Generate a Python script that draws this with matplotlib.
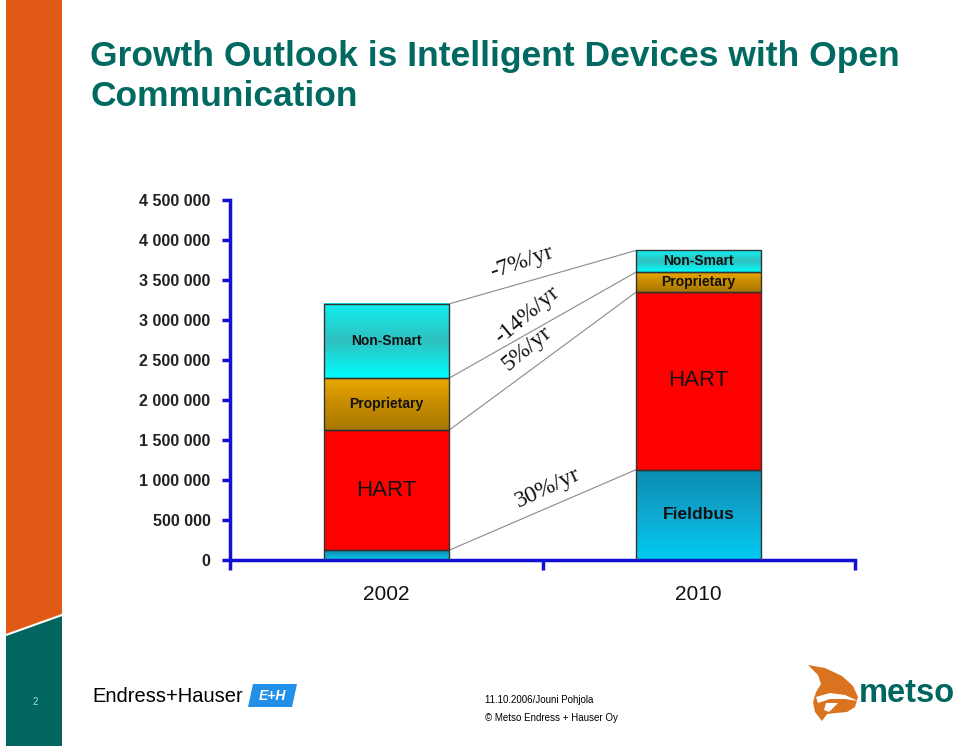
import matplotlib
matplotlib.use("Agg")
import matplotlib.pyplot as plt
import numpy as np
from matplotlib.patches import Polygon
from matplotlib.colors import LinearSegmentedColormap

# ---------------- data ----------------
years = ["2002", "2010"]
segments = ["Fieldbus", "HART", "Proprietary", "Non-Smart"]
fieldbus = [120000, 1130000]
hart = [1500000, 2220000]
proprietary = [650000, 250000]
non_smart = [930000, 270000]
yticks = [0, 500000, 1000000, 1500000, 2000000, 2500000, 3000000, 3500000, 4000000, 4500000]
growth_labels = ["30%/yr", "5%/yr", "-14%/yr", "-7%/yr"]

W, H = 960, 748
fig = plt.figure(figsize=(W / 100, H / 100), dpi=100)
fig.patch.set_facecolor("white")

def fx(px):
    return px / W

def fy(py):
    return 1 - py / H

SANS = ["Liberation Sans", "DejaVu Sans"]
SERIF = ["Liberation Serif", "DejaVu Serif"]
TEAL = "#006A60"
BLUE = "#1010D8"

# ---------------- decorations ----------------
deco = fig.add_axes([0, 0, 1, 1])
deco.set_xlim(0, W)
deco.set_ylim(H, 0)
deco.axis("off")
deco.add_patch(Polygon([(6, 0), (62, 0), (62, 615), (6, 635)], closed=True,
                       facecolor="#E05A16", edgecolor="none"))
deco.add_patch(Polygon([(6, 635), (62, 615), (62, 746), (6, 746)], closed=True,
                       facecolor="#00665F", edgecolor="none"))
deco.plot([6, 62], [635, 615], color="white", lw=1.5)
deco.text(35, 702, "2", color="#A8E0DC", fontsize=7, ha="center", va="center", family=SANS)

# title
deco.text(90, 56, "Growth Outlook is Intelligent Devices with Open", color=TEAL,
          fontsize=25.5, fontweight="bold", ha="left", va="center", family=SANS)
deco.text(90, 96, "Communication", color=TEAL,
          fontsize=25.5, fontweight="bold", ha="left", va="center", family=SANS)

# Endress+Hauser logo
deco.text(92, 697, "Endress+Hauser", color="black", fontsize=14.5, ha="left",
          va="center", family=SANS)
deco.add_patch(Polygon([(253, 684), (297, 684), (292, 707), (248, 707)], closed=True,
                       facecolor="#2290E8", edgecolor="none"))
deco.text(272, 696, "E+H", color="white", fontsize=10, fontweight="bold",
          style="italic", ha="center", va="center", family=SANS)

# footer texts
deco.text(485, 700, "11.10.2006/Jouni Pohjola", color="black", fontsize=7,
          ha="left", va="center", family=SANS)
deco.text(485, 718, "\u00a9 Metso Endress + Hauser Oy", color="black", fontsize=7,
          ha="left", va="center", family=SANS)

# metso logo
deco.add_patch(Polygon([(808, 665), (825, 668), (842, 676), (853, 686), (858, 697),
                        (855, 707), (847, 712), (836, 713), (827, 714), (822, 721),
                        (815, 712), (813, 702), (816, 692), (821, 684), (818, 675)],
                       closed=True, facecolor="#D9731E", edgecolor="none"))
deco.add_patch(Polygon([(816, 697), (830, 693), (845, 695), (858, 701), (845, 699),
                        (830, 699), (818, 703)], closed=True, facecolor="white",
                       edgecolor="none"))
deco.add_patch(Polygon([(826, 703), (838, 703), (829, 712), (824, 710)], closed=True,
                       facecolor="white", edgecolor="none"))
deco.text(859, 694, "metso", color="#00665F", fontsize=23.5, fontweight="bold",
          ha="left", va="center", family=SANS)

# ---------------- chart ----------------
ax = fig.add_axes([fx(230), fy(560), (855 - 230) / W, 360 / H])
ax.set_xlim(-0.5, 1.5)
ax.set_ylim(0, 4500000)
ax.set_facecolor("none")

x = np.arange(len(years))
width = 0.4
series = [fieldbus, hart, proprietary, non_smart]

gradients = {
    "Fieldbus": ["#00CCF2", "#0FA8D0", "#0A8CB0"],
    "HART": ["#FF0000", "#FF0000"],
    "Proprietary": ["#A87800", "#C88C00", "#EAA800"],
    "Non-Smart": ["#00FFFF", "#30C0C0", "#10F0F0"],
}
label_sizes = {"HART": 16, "Fieldbus": 12.5, "Proprietary": 10, "Non-Smart": 10}
label_weights = {"HART": "normal", "Fieldbus": "bold", "Proprietary": "bold", "Non-Smart": "bold"}

bottoms = np.zeros(len(years))
tops = []
for name, vals in zip(segments, series):
    vals = np.array(vals, dtype=float)
    bars = ax.bar(x, vals, width, bottom=bottoms, facecolor="none",
                  edgecolor="#333333", linewidth=1.0, zorder=3)
    cmap = LinearSegmentedColormap.from_list(name, gradients[name])
    grad = np.linspace(0, 1, 256).reshape(-1, 1)
    for b in bars:
        x0, y0 = b.get_x(), b.get_y()
        ax.imshow(grad, cmap=cmap, aspect="auto", origin="lower",
                  extent=(x0, x0 + b.get_width(), y0, y0 + b.get_height()),
                  zorder=2, interpolation="bilinear")
    for xi, v, b0 in zip(x, vals, bottoms):
        if v < 200000:
            continue
        ax.text(xi, b0 + v / 2, name, ha="center", va="center",
                fontsize=label_sizes[name], fontweight=label_weights[name],
                family=SANS, color="#111111", zorder=4)
    bottoms = bottoms + vals
    tops.append(bottoms.copy())

# connector lines and growth labels
label_pos = [(0.518, 900000, 25), (0.45, 2650000, 40), (0.45, 3060000, 40), (0.434, 3725000, 19)]
for t, lab, (lx, ly, rot) in zip(tops, growth_labels, label_pos):
    ax.plot([x[0] + width / 2, x[1] - width / 2], [t[0], t[1]], color="#8A8A8A",
            lw=0.8, zorder=1)
    ax.text(lx, ly, lab, rotation=rot, rotation_mode="anchor", ha="center", va="center",
            fontsize=17, family=SERIF, color="#111111", zorder=4)

# axes styling
for s in ["top", "right"]:
    ax.spines[s].set_visible(False)
for s in ["left", "bottom"]:
    ax.spines[s].set_color(BLUE)
    ax.spines[s].set_linewidth(2.5)

ax.set_yticks(yticks)
ax.set_yticklabels([f"{v:,}".replace(",", " ") for v in yticks])
ax.tick_params(axis="y", colors=BLUE, length=6, width=2.5, pad=8, labelcolor="#222222",
               labelsize=11.5)
for lab in ax.get_yticklabels():
    lab.set_fontweight("bold")
    lab.set_family(SANS)

ax.set_xticks([-0.5, 0.5, 1.5])
ax.set_xticklabels([])
ax.tick_params(axis="x", which="major", colors=BLUE, length=7, width=2.5)
ax.set_xticks(x, minor=True)
ax.set_xticklabels(years, minor=True)
ax.tick_params(axis="x", which="minor", length=0, pad=18, labelsize=15,
               labelcolor="#111111")
for lab in ax.get_xticklabels(minor=True):
    lab.set_family(SANS)

fig.savefig("out.png", dpi=100, facecolor="white")
